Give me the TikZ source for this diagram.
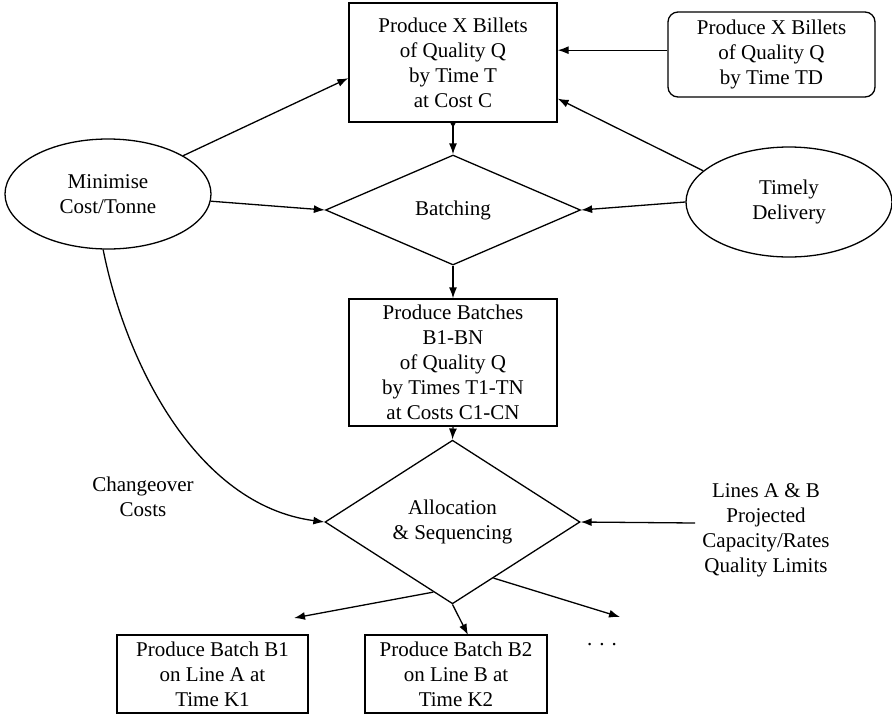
\documentclass[tikz,border=0pt]{standalone}
\usepackage{fontspec}
\setmainfont{Liberation Serif}
\usetikzlibrary{shapes.geometric,arrows.meta,calc}

\tikzset{
  txt/.style={align=center, inner sep=0pt},
  box/.style={draw, line width=1.3pt, align=center, inner sep=0pt},
  roundbox/.style={box, rounded corners=10pt},
  oval/.style={draw, line width=1.3pt, ellipse, align=center, inner sep=0pt,
    minimum width=206pt, minimum height=110pt},
  decision/.style={draw, line width=1.3pt, diamond, align=center, inner sep=0pt,
    minimum width=255pt, minimum height=110pt},
  flow/.style={line width=1.3pt, -{Latex[length=11pt,width=8pt]}},
}

\begin{document}
\begin{tikzpicture}[x=1pt, y=-1pt, font=\fontsize{21}{25}\selectfont]
\useasboundingbox (0,0) rectangle (892,716);

% goal boxes
\node[box, minimum width=208pt, minimum height=119pt] (top) at (453,62.5)
  {Produce X Billets\\of Quality Q\\by Time T\\at Cost C};
\node[roundbox, minimum width=207pt, minimum height=85pt] (td) at (771.5,54.5)
  {Produce X Billets\\of Quality Q\\by Time TD};

% objectives
\node[oval] (minc) at (108,194) {Minimise\\Cost/Tonne};
\node[oval] (timely) at (789,202) {Timely\\Delivery};

% decisions
\node[decision] (batching) at (453,210) {Batching};
\node[box, minimum width=208pt, minimum height=127pt] (batches) at (453,362.5)
  {Produce Batches\\B1-BN\\of Quality Q\\by Times T1-TN\\at Costs C1-CN};
\node[decision] (alloc) at (452.5,522) {Allocation\\\& Sequencing};

% side inputs
\node[txt] (change) at (143,497) {Changeover\\Costs};
\node[txt] (lines) at (766,530.5) {Lines A \& B\\Projected\\Capacity/Rates\\Quality Limits};

% outputs
\node[box, minimum width=191pt, minimum height=78pt] (b1) at (212.5,674)
  {Produce Batch B1\\on Line A at\\Time K1};
\node[box, minimum width=182pt, minimum height=78pt] (b2) at (456,674)
  {Produce Batch B2\\on Line B at\\Time K2};
\node[txt] (dots) at (602,645) {.\,\,.\,\,.};

% helper points
\coordinate (tdleft) at ($(td.north west)!0.45!(td.south west)$);
\coordinate (topw) at ($(top.north west)!0.63!(top.south west)$);
\coordinate (tope) at ($(top.north east)!0.8!(top.south east)$);
\coordinate (linesin) at (695,523);
\coordinate (outl) at ($(alloc.west)!0.85!(alloc.south)$);
\coordinate (outr) at ($(alloc.south)!0.32!(alloc.east)$);
\coordinate (endl) at (294,618);
\coordinate (endr) at (620,617);
\coordinate (endm) at (468,635);

% connectors
\draw[flow] (tdleft) -- (tdleft -| top.east);
\draw[flow] (minc.27) -- (topw);
\draw[flow] (timely.160) -- (tope);
\draw[line width=1.3pt, {Latex[reversed,length=6pt,width=6pt]}-{Latex[length=11pt,width=8pt]}]
  (top.south) -- (batching.north);
\draw[flow] (minc.-4) -- (batching.west);
\draw[flow] (timely.west) -- (batching.east);
\draw[flow] (batching.south) -- (batches.north);
\draw[flow] (batches.south) -- (alloc.north);
\draw[flow] (minc.265) .. controls (125,360) and (195,505) .. (alloc.west);
\draw[flow] (linesin) -- (alloc.east);
\draw[flow] (outl) -- (endl);
\draw[flow] (alloc.south) -- (endm);
\draw[flow] (outr) -- (endr);
\end{tikzpicture}
\end{document}
